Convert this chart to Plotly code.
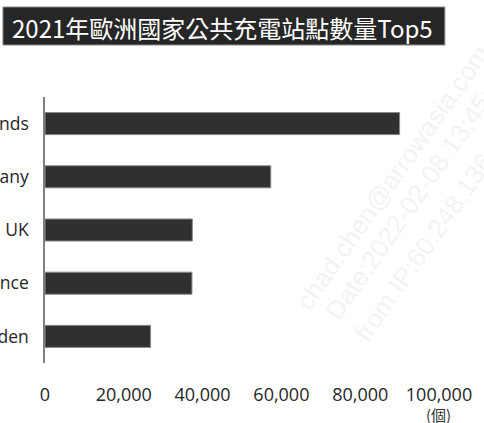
import math
import plotly.graph_objects as go

countries = ["Netherlands", "Germany", "UK", "France", "Sweden"]
stations = [90000, 57300, 37400, 37300, 26800]
tick_vals = [0, 20000, 40000, 60000, 80000, 100000]
tick_text = ["0", "20,000", "40,000", "60,000", "80,000", "100,000"]
title_text = "2021年歐洲國家公共充電站點數量Top5"
unit_text = "(個)"
watermark_lines = ["chad.chen@arrowasia.com", "Date:2022-02-08 13:45:12", "from IP:60.248.136.71"]

W, H = 484, 423
L, R, T, B = 45, 36, 97, 60
pw, ph = W - L - R, H - T - B

def px(x):
    return (x - L) / pw

def py(y):
    return (H - B - y) / ph

FONT = "Open Sans, Noto Sans, DejaVu Sans, sans-serif"
CJK = "Noto Sans CJK TC, Noto Sans CJK SC, sans-serif"

fig = go.Figure(go.Bar(
    x=stations, y=countries, orientation="h",
    marker=dict(color="#303030", line=dict(color="#8a8a8a", width=1)),
))

annotations = []
wm_starts = [(310, 307), (332, 327), (360, 352)]
ang = math.radians(55)
for txt, (wx, wy) in zip(watermark_lines, wm_starts):
    half = len(txt) * 26 * 0.53 / 2
    cx = wx + half * math.cos(ang)
    cy = wy - half * math.sin(ang)
    annotations.append(dict(
        x=px(cx), y=py(cy), xref="paper", yref="paper", text=txt,
        textangle=-55, showarrow=False, xanchor="center", yanchor="middle",
        font=dict(family="Liberation Sans, Arial, sans-serif", size=26, color="rgba(200,200,200,0.22)"),
    ))

annotations.append(dict(
    x=px(227), y=py(27), xref="paper", yref="paper", text=title_text,
    showarrow=False, xanchor="center", yanchor="middle",
    font=dict(family=CJK, size=24, color="white"),
))
annotations.append(dict(
    x=px(447), y=py(414), xref="paper", yref="paper", text=unit_text,
    showarrow=False, xanchor="center", yanchor="middle",
    font=dict(family=CJK, size=15, color="#333333"),
))

fig.update_layout(
    width=W, height=H,
    margin=dict(l=L, r=R, t=T, b=B, pad=0),
    paper_bgcolor="white", plot_bgcolor="white",
    showlegend=False,
    bargap=0.585,
    font=dict(family=FONT, color="#262626"),
    shapes=[dict(
        type="rect", xref="paper", yref="paper",
        x0=px(2), x1=px(454), y0=py(45), y1=py(7),
        fillcolor="#262626", line=dict(color="#8a8a8a", width=1), layer="above",
    )],
    annotations=annotations,
    xaxis=dict(
        range=[0, 100000], tickvals=tick_vals, ticktext=tick_text,
        showgrid=False, zeroline=False, showline=False, ticks="",
        tickfont=dict(family=FONT, size=18, color="#262626"),
        ticklabelstandoff=19, ticklabeloverflow="allow", fixedrange=True,
    ),
    yaxis=dict(
        autorange="reversed", showgrid=False, zeroline=False,
        showline=True, linecolor="#808080", linewidth=1.5, ticks="",
        tickfont=dict(family=FONT, size=17.5, color="#262626"),
        ticklabelstandoff=11, automargin=False, fixedrange=True,
    ),
)

fig.write_html(
    "out.html",
    config={"displayModeBar": False},
    post_script=(
        "document.body.style.margin='0';"
        "document.body.style.overflow='hidden';"
        "document.documentElement.style.overflow='hidden';"
    ),
)
